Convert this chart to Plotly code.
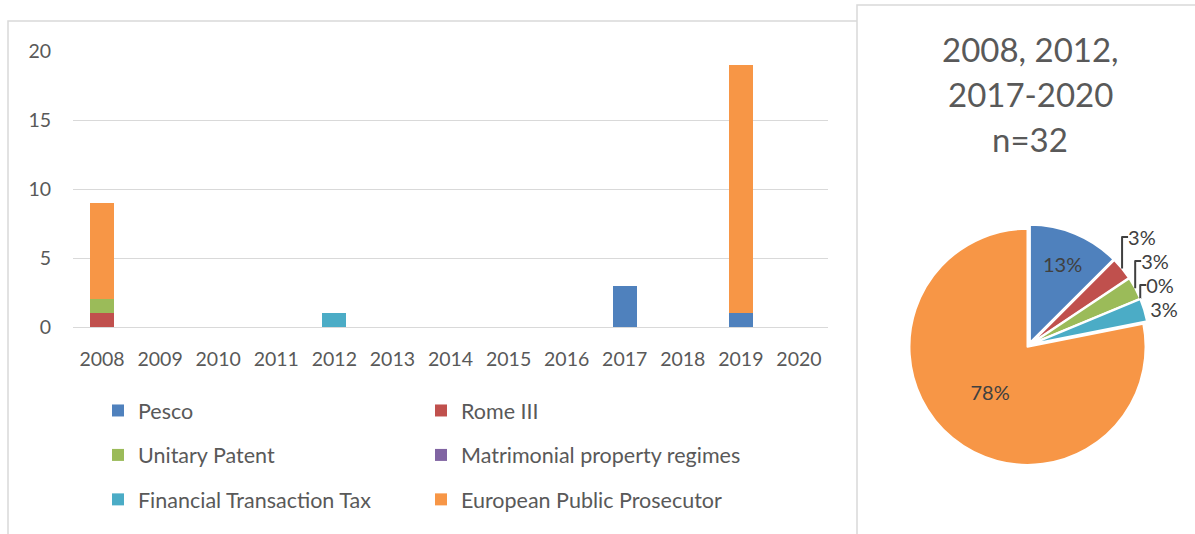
import plotly.graph_objects as go

# Yearly counts per instrument
years = ["2008", "2009", "2010", "2011", "2012", "2013", "2014",
         "2015", "2016", "2017", "2018", "2019", "2020"]
pesco = [0, 0, 0, 0, 0, 0, 0, 0, 0, 3, 0, 1, 0]
rome_iii = [1, 0, 0, 0, 0, 0, 0, 0, 0, 0, 0, 0, 0]
unitary_patent = [1, 0, 0, 0, 0, 0, 0, 0, 0, 0, 0, 0, 0]
matrimonial = [0, 0, 0, 0, 0, 0, 0, 0, 0, 0, 0, 0, 0]
financial_tax = [0, 0, 0, 0, 1, 0, 0, 0, 0, 0, 0, 0, 0]
public_prosecutor = [7, 0, 0, 0, 0, 0, 0, 0, 0, 0, 0, 18, 0]

series_names = ["Pesco", "Rome III", "Unitary Patent",
                "Matrimonial property regimes", "Financial Transaction Tax",
                "European Public Prosecutor"]
series_values = [pesco, rome_iii, unitary_patent, matrimonial,
                 financial_tax, public_prosecutor]
colors = ["#4F81BD", "#C0504D", "#9BBB59", "#8064A2", "#4BACC6", "#F79646"]

pie_title_lines = ["2008, 2012,", "2017-2020", "n=32"]

W, H = 1195, 534
FONT = "Lato"
TXT = "#595959"


def px_x(p):
    return p / W


def px_y(p):
    return 1 - p / H


fig = go.Figure()

# Stacked bars; series in the left column go to legend, right column to legend2
for i, (name, vals, col) in enumerate(zip(series_names, series_values, colors)):
    fig.add_trace(go.Bar(
        x=years, y=vals, name=name, marker=dict(color=col, line=dict(width=0)),
        legend="legend" if i % 2 == 0 else "legend2",
        legendgroup=name, hoverinfo="x+y+name",
    ))

# Share of all instruments over the whole period
totals = [sum(v) for v in series_values]
fig.add_trace(go.Pie(
    labels=series_names, values=totals, sort=False, direction="clockwise",
    rotation=0, showlegend=False,
    marker=dict(colors=colors, line=dict(color="white", width=2)),
    pull=[0.02] * len(totals),
    texttemplate="%{percent:.0%}",
    textposition=["inside", "outside", "outside", "outside", "outside", "inside"],
    insidetextfont=dict(family=FONT, size=20, color="#404040"),
    outsidetextfont=dict(family=FONT, size=20, color="#404040"),
    insidetextorientation="horizontal",
    domain=dict(x=[px_x(908.6), px_x(1149.4)], y=[px_y(465.4), px_y(224.6)]),
))

title_annotations = [
    dict(text=line, xref="paper", yref="paper",
         x=px_x(1030), y=px_y(49 + 45 * k), xanchor="center", yanchor="middle",
         showarrow=False, font=dict(family=FONT, size=33, color=TXT))
    for k, line in enumerate(pie_title_lines)
]

legend_style = dict(yanchor="top", xanchor="left", orientation="v",
                    tracegroupgap=13.5,
                    font=dict(family=FONT, size=21.5, color=TXT),
                    bgcolor="rgba(0,0,0,0)")

fig.update_layout(
    width=W, height=H,
    margin=dict(l=0, r=0, t=0, b=0, autoexpand=False),
    paper_bgcolor="white", plot_bgcolor="white",
    barmode="stack", bargap=0.59,
    font=dict(family=FONT, size=18, color=TXT),
    xaxis=dict(domain=[px_x(73), px_x(828)], showgrid=False, showline=False,
               ticks="", tickfont=dict(size=19.5, color=TXT), fixedrange=True,
               ticklabelstandoff=18, automargin=False),
    yaxis=dict(domain=[px_y(327), px_y(51)], range=[0, 20], dtick=5,
               showgrid=True, gridcolor="#D9D9D9", gridwidth=1,
               zeroline=True, zerolinecolor="#D9D9D9", zerolinewidth=1,
               showline=False, ticks="", tickfont=dict(size=19.5, color=TXT),
               ticklabelstandoff=21, automargin=False, fixedrange=True),
    legend=dict(x=px_x(98), y=px_y(390), **legend_style),
    legend2=dict(x=px_x(421), y=px_y(390), **legend_style),
    shapes=[
        dict(type="rect", xref="paper", yref="paper",
             x0=px_x(8), x1=px_x(870), y0=-0.05, y1=px_y(21),
             line=dict(color="#D9D9D9", width=1.5), fillcolor="rgba(0,0,0,0)",
             layer="below"),
        dict(type="rect", xref="paper", yref="paper",
             x0=px_x(857), x1=1.05, y0=-0.05, y1=px_y(5),
             line=dict(color="#D9D9D9", width=1.5), fillcolor="white",
             layer="below"),
    ],
    annotations=title_annotations,
)

fig.write_html("out.html")
